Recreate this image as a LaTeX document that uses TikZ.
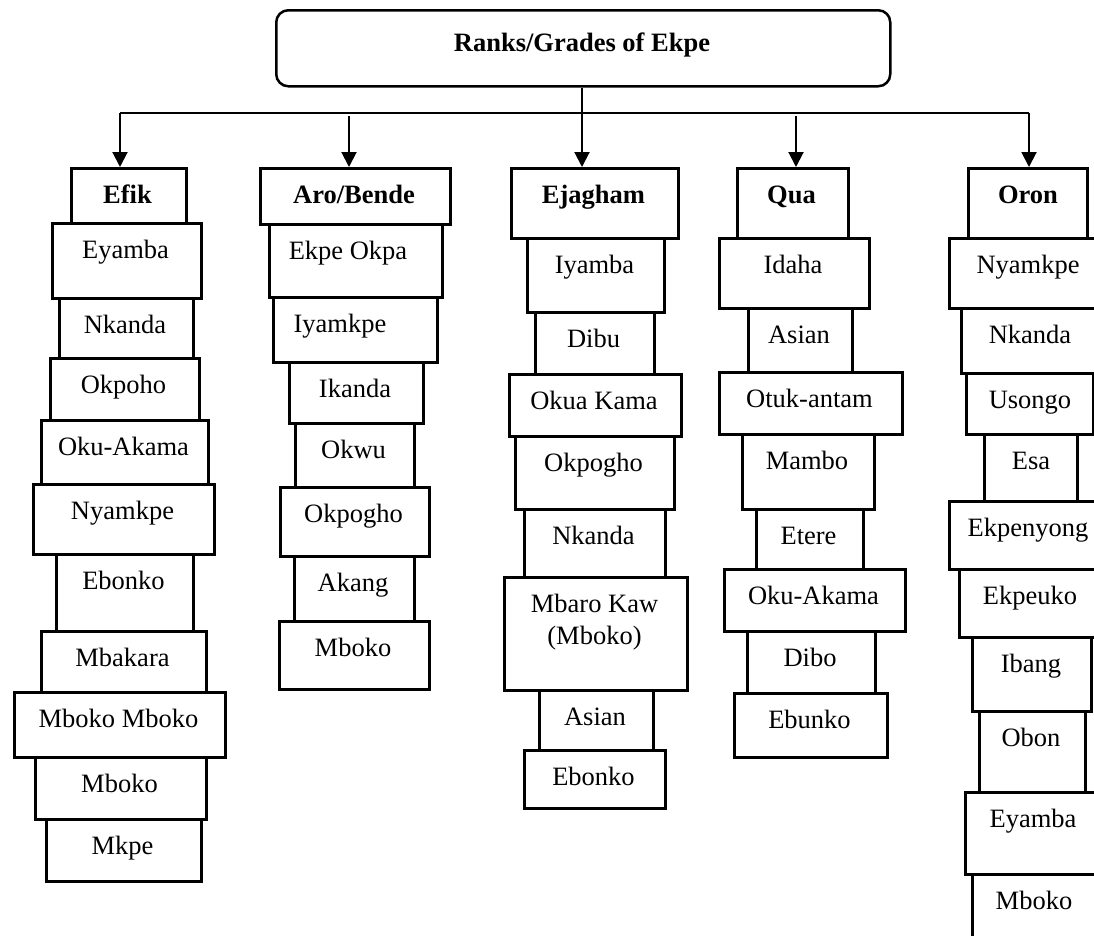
\documentclass[tikz,border=0pt]{standalone}
\usepackage{fontspec}
\setmainfont{Liberation Serif}
\usetikzlibrary{arrows.meta,calc}
\tikzset{
  box/.style={draw=black, line width=2.5pt, inner sep=0pt, anchor=north west, fill=white},
  lbl/.style={anchor=base, inner sep=0pt, font=\fontsize{26.5}{32}\selectfont},
  hdr/.style={lbl, font=\fontsize{26.5}{32}\selectfont\bfseries},
  rootbox/.style={draw=black, line width=2.5pt, rounded corners=12pt, inner sep=0pt, minimum width=614pt, minimum height=76pt, anchor=north west},
  conn/.style={line width=2.5pt},
  arr/.style={line width=2pt, -{Triangle[length=15pt,width=15pt]}}
}
% box with text centre at given x
\newcommand\bxt[8][lbl]{%
  \node[box, minimum width={#5-#3}, minimum height={#6-#4}] (#2) at (#3,#4) {};
  \node[#1] (#2-t) at ({#7},{#4+36}) {#8};
}
% box with centred text
\newcommand\bxc[7][lbl]{\bxt[#1]{#2}{#3}{#4}{#5}{#6}{(#3+#5)/2}{#7}}
\begin{document}
\begin{tikzpicture}[x=1pt,y=-1pt]
\useasboundingbox (0,0) rectangle (1094,935);
\clip (0,0) rectangle (1094,935);
% root
\node[rootbox] (root) at (275,9) {};
\node[hdr] (root-t) at (582,51) {Ranks/Grades of Ekpe};
\coordinate (hub) at (582,113);
\coordinate (hl) at (120,113);
\coordinate (hr) at (1029,113);
\draw[conn] (root.south -| hub) -- (hub);
\draw[conn] (hl) -- (hr);
% Efik
\bxc[hdr]{efik}{70}{167}{185}{222}{Efik}
\bxc{e1}{51}{222}{200}{297}{Eyamba}
\bxc{e2}{58}{297}{192}{357}{Nkanda}
\bxc{e3}{49}{357}{198}{419}{Okpoho}
\bxc{e4}{40}{419}{207}{483}{Oku-Akama}
\bxc{e5}{32}{483}{213}{553}{Nyamkpe}
\bxc{e6}{55}{553}{192}{630}{Ebonko}
\bxc{e7}{40}{630}{205}{691}{Mbakara}
\bxc{e8}{13}{691}{224}{756}{Mboko Mboko}
\bxc{e9}{34}{756}{205}{818}{Mboko}
\bxc{e10}{45}{818}{200}{880}{Mkpe}
% Aro/Bende
\bxc[hdr]{aro}{259}{167}{449}{223}{Aro/Bende}
\bxt{a1}{268}{223}{441}{296}{348}{Ekpe Okpa}
\bxt{a2}{272}{296}{436}{361}{340}{Iyamkpe}
\bxc{a3}{288}{361}{422}{422}{Ikanda}
\bxc{a4}{294}{422}{413}{486}{Okwu}
\bxc{a5}{279}{486}{428}{555}{Okpogho}
\bxc{a6}{293}{555}{413}{620}{Akang}
\bxc{a7}{278}{620}{428}{688}{Mboko}
% Ejagham
\bxc[hdr]{eja}{510}{167}{677}{237}{Ejagham}
\bxc{j1}{526}{237}{663}{311}{Iyamba}
\bxc{j2}{534}{311}{653}{373}{Dibu}
\bxc{j3}{508}{373}{680}{435}{Okua Kama}
\bxc{j4}{514}{435}{673}{508}{Okpogho}
\bxc{j5}{523}{508}{664}{576}{Nkanda}
\bxc{j6}{503}{576}{686}{689}{\begin{tabular}[t]{@{}c@{}}Mbaro Kaw\\(Mboko)\end{tabular}}
\bxc{j7}{538}{689}{652}{749}{Asian}
\bxc{j8}{523}{749}{664}{807}{Ebonko}
% Qua
\bxc[hdr]{qua}{736}{167}{847}{237}{Qua}
\bxc{q1}{718}{237}{868}{307}{Idaha}
\bxc{q2}{747}{307}{851}{371}{Asian}
\bxc{q3}{718}{371}{901}{433}{Otuk-antam}
\bxc{q4}{741}{433}{873}{508}{Mambo}
\bxc{q5}{755}{508}{862}{568}{Etere}
\bxc{q6}{723}{568}{904}{630}{Oku-Akama}
\bxc{q7}{746}{630}{874}{692}{Dibo}
\bxc{q8}{733}{692}{886}{756}{Ebunko}
% Oron
\bxt[hdr]{oron}{967}{167}{1086}{237}{1028}{Oron}
\bxt{o1}{948}{237}{1110}{307}{1028}{Nyamkpe}
\bxt{o2}{960}{307}{1110}{372}{1030}{Nkanda}
\bxt{o3}{965}{372}{1092}{433}{1030}{Usongo}
\bxt{o4}{983}{433}{1076}{500}{1031}{Esa}
\bxt{o5}{948}{500}{1110}{568}{1028}{Ekpenyong}
\bxt{o6}{958}{568}{1110}{636}{1030}{Ekpeuko}
\bxt{o7}{971}{636}{1090}{710}{1031}{Ibang}
\bxt{o8}{978}{710}{1084}{791}{1031}{Obon}
\bxt{o9}{964}{791}{1110}{873}{1033}{Eyamba}
\bxt{o10}{971}{873}{1110}{960}{1034}{Mboko}
% arrows
\coordinate (sa) at (349,116);
\coordinate (sq) at (796,116);
\draw[arr] (hl) -- (hl |- efik.north);
\draw[arr] (sa) -- (sa |- aro.north);
\draw[arr] (hub) -- (hub |- eja.north);
\draw[arr] (sq) -- (sq |- qua.north);
\draw[arr] (hr) -- (hr |- oron.north);
\end{tikzpicture}
\end{document}
